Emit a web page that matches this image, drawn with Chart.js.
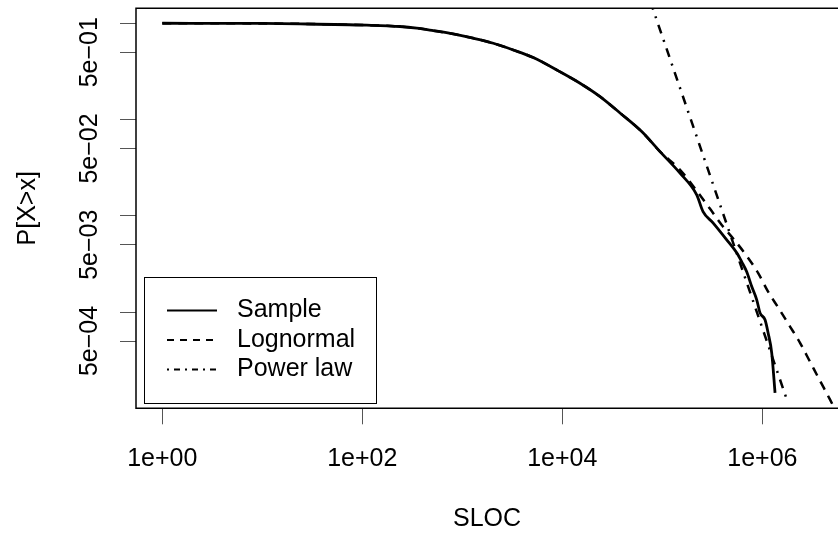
<!DOCTYPE html>
<html>
<head>
  <meta charset="utf-8">
  <title>SLOC CCDF</title>
  <script src="https://cdn.jsdelivr.net/npm/chart.js"></script>
  <style>
    body { margin: 0; background: #fff; }
    #wrap { width: 838px; height: 536px; }
  </style>
</head>
<body>

<div id="wrap"><canvas id="ccdf" width="838" height="536"></canvas></div>

<script>
  // empirical CCDF of SLOC
  const sampleX = [1, 10, 23.8, 110.7, 238, 350, 513, 813, 1288, 2042, 3236, 5129, 9120, 15030, 23820, 37760,
    62230, 94840, 150300, 220800, 255300, 321400, 440600, 554600, 622300, 698000, 783400, 879000, 948400,
    1064000, 1141000, 1241000, 1340000];
  const sampleY = [1, 0.995, 0.985, 0.955, 0.925, 0.89, 0.838, 0.774, 0.699, 0.620, 0.528, 0.440, 0.320, 0.238,
    0.173, 0.117, 0.0749, 0.0464, 0.0277, 0.0165, 0.01106, 0.00844, 0.00562, 0.00412, 0.00332, 0.00262,
    0.00184, 0.00134, 0.00098, 0.00083, 0.00061, 0.000377, 0.000145];

  // lognormal fit
  const lognormX = [1, 10, 23.8, 110.7, 238, 350, 513, 813, 1288, 2042, 3236, 5129, 9120, 15030, 23820, 37760,
    62230, 94840, 150300, 220800, 300000, 392600, 533300, 698000, 906000, 1141000, 1469000, 1892000,
    2382000, 3000000, 3776000, 4755000, 5090000];
  const lognormY = [1, 0.995, 0.985, 0.955, 0.925, 0.89, 0.838, 0.774, 0.699, 0.620, 0.528, 0.440, 0.320, 0.238,
    0.173, 0.117, 0.0749, 0.0464, 0.030, 0.0182, 0.0118, 0.00804, 0.0055, 0.00383, 0.00255, 0.00163,
    0.00108, 0.000707, 0.000479, 0.000304, 0.000193, 0.000123, 0.000107];

  // power law fit
  const powerX = [70800, 1810000];
  const powerY = [2.08, 0.000113];

  const xTickValues = [1, 100, 10000, 1000000];
  const xTickLabels = ['1e+00', '1e+02', '1e+04', '1e+06'];
  const yTickValues = [0.0005, 0.001, 0.005, 0.01, 0.05, 0.1, 0.5, 1];
  const yTickLabels = ['5e\u221204', '', '5e\u221203', '', '5e\u221202', '', '5e\u221201', ''];

  const seriesNames = ['Sample', 'Lognormal', 'Power law'];

  const toPoints = (xs, ys) => xs.map((x, i) => ({ x: x, y: ys[i] }));

  const FONT = 'Liberation Sans, Arial, Helvetica, sans-serif';
  const axisFont = { family: FONT, size: 25 };

  // box around the plot region, like R's box()
  const framePlugin = {
    id: 'frame',
    afterDatasetsDraw(chart) {
      const a = chart.chartArea;
      const ctx = chart.ctx;
      ctx.save();
      ctx.strokeStyle = '#000';
      ctx.lineWidth = 1.5;
      ctx.beginPath();
      ctx.moveTo(a.right + 2, a.top);
      ctx.lineTo(a.left, a.top);
      ctx.lineTo(a.left, a.bottom);
      ctx.lineTo(a.right + 2, a.bottom);
      ctx.stroke();
      ctx.restore();
    }
  };

  // R style legend box in the lower left
  const legendPlugin = {
    id: 'rlegend',
    afterDraw(chart) {
      const ctx = chart.ctx;
      ctx.save();
      ctx.fillStyle = '#fff';
      ctx.fillRect(144.5, 277.5, 232, 126);
      ctx.strokeStyle = '#000';
      ctx.lineWidth = 1;
      ctx.strokeRect(144.5, 277.5, 232, 126);
      const rows = [310.5, 340, 369.5];
      const dashes = [[], [7, 6], [2, 5, 6, 5]];
      chart.data.datasets.forEach((ds, i) => {
        ctx.strokeStyle = ds.borderColor;
        ctx.lineWidth = 1.8;
        ctx.setLineDash(dashes[i]);
        ctx.beginPath();
        ctx.moveTo(167, rows[i]);
        ctx.lineTo(217, rows[i]);
        ctx.stroke();
        ctx.setLineDash([]);
        ctx.fillStyle = '#000';
        ctx.font = '25px ' + FONT;
        ctx.textBaseline = 'middle';
        ctx.textAlign = 'left';
        ctx.fillText(ds.label, 237, rows[i]);
      });
      ctx.restore();
    }
  };

  const ctx = document.getElementById('ccdf').getContext('2d');
  new Chart(ctx, {
    type: 'scatter',
    data: {
      datasets: [
        {
          label: seriesNames[0],
          data: toPoints(sampleX, sampleY),
          showLine: true,
          borderColor: '#000',
          borderWidth: 2.8,
          pointRadius: 0,
          cubicInterpolationMode: 'monotone'
        },
        {
          label: seriesNames[1],
          data: toPoints(lognormX, lognormY),
          showLine: true,
          borderColor: '#000',
          borderWidth: 2.5,
          borderDash: [9, 7],
          pointRadius: 0,
          cubicInterpolationMode: 'monotone'
        },
        {
          label: seriesNames[2],
          data: toPoints(powerX, powerY),
          showLine: true,
          borderColor: '#000',
          borderWidth: 2.5,
          borderDash: [2, 7, 9, 7],
          pointRadius: 0,
          tension: 0
        }
      ]
    },
    options: {
      responsive: false,
      animation: false,
      layout: { padding: { top: 8.3, right: 0, bottom: 0, left: 0 } },
      plugins: {
        legend: { display: false },
        tooltip: { enabled: false }
      },
      scales: {
        x: {
          type: 'logarithmic',
          min: 0.546,
          max: 5.71e6,
          afterBuildTicks: s => { s.ticks = xTickValues.map(v => ({ value: v })); },
          afterFit: s => { s.height = 127.7; },
          ticks: {
            autoSkip: false,
            maxRotation: 0,
            minRotation: 0,
            padding: 20,
            color: '#000',
            font: axisFont,
            callback: (v, i) => xTickLabels[i]
          },
          grid: { drawOnChartArea: false, tickLength: 16, color: '#555', lineWidth: 1 },
          border: { display: false },
          title: {
            display: true,
            text: 'SLOC',
            color: '#000',
            font: axisFont,
            padding: { top: 0, bottom: 2 }
          }
        },
        y: {
          type: 'logarithmic',
          min: 0.0001,
          max: 1.43,
          afterBuildTicks: s => { s.ticks = yTickValues.map(v => ({ value: v })); },
          afterFit: s => { s.width = 136; },
          ticks: {
            autoSkip: false,
            minRotation: 90,
            maxRotation: 90,
            crossAlign: 'center',
            padding: -5.6,
            color: '#000',
            font: { family: FONT, size: 25, lineHeight: 0.8 },
            callback: (v, i) => yTickLabels[i]
          },
          grid: { drawOnChartArea: false, tickLength: 16, color: '#555', lineWidth: 1 },
          border: { display: false },
          title: {
            display: true,
            text: 'P[X>x]',
            color: '#000',
            font: axisFont,
            padding: { top: 13, bottom: 0 }
          }
        }
      }
    },
    plugins: [framePlugin, legendPlugin]
  });
</script>

</body>
</html>
